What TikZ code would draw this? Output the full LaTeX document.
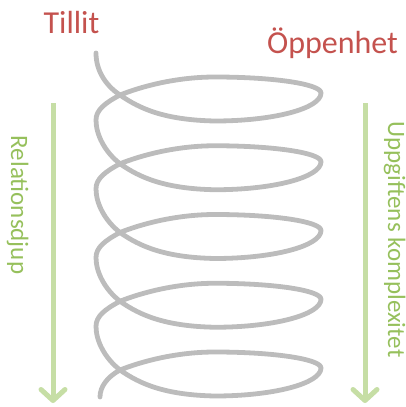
\documentclass[tikz,border=0pt]{standalone}
\usepackage{fontspec}
\setmainfont{Carlito}
\usetikzlibrary{arrows.meta}
\definecolor{springgray}{RGB}{188,188,188}
\definecolor{titlered}{RGB}{196,82,78}
\definecolor{arrowgreen}{RGB}{198,222,165}
\definecolor{textgreen}{RGB}{150,192,92}
\tikzset{
  spring/.style={draw=springgray, line width=4.8pt, line cap=round, line join=round},
  greenarrow/.style={draw=arrowgreen, line width=5pt, -{Straight Barb[length=11pt,width=24pt,line cap=round,line join=round]}},
  titletext/.style={text=titlered, inner sep=0pt, anchor=base, font=\fontsize{32}{32}\selectfont},
  sidetext/.style={text=textgreen, inner sep=0pt, anchor=base, rotate=-90, font=\fontsize{25}{25}\selectfont}
}
\begin{document}
\begin{tikzpicture}[x=1pt, y=-1pt]
\useasboundingbox (0,0) rectangle (406,407);
% titles
\node[titletext] (tillit) at (71.5,33) {Tillit};
\node[titletext] (oppen) at (332.5,53) {Öppenhet};
% side labels
\node[sidetext] (rel) at (11,205) {Relationsdjup};
\node[sidetext] (upp) at (388,239.5) {Uppgiftens komplexitet};
% arrows
\coordinate (la1) at (53,103);
\coordinate (la2) at (53,403);
\coordinate (ra1) at (365,103);
\coordinate (ra2) at (365,403);
\draw[greenarrow] (la1) -- (la2);
\draw[greenarrow] (ra1) -- (ra2);
% spring
\draw[spring] (96,53) .. controls (96,70) and (105,85) .. (120,95);
\foreach \i in {0,...,4}{
  \begin{scope}[shift={(0,68.75*\i)}]
    \draw[spring] (120,95) .. controls (140,109) and (165,120) .. (215,121)
      .. controls (273.5,121) and (321,108.5) .. (321,93)
      .. controls (321,84) and (273.5,77) .. (215,77)
      .. controls (175,77) and (140,87) .. (120,95);
  \end{scope}
}
\foreach \i in {0,...,3}{
  \begin{scope}[shift={(0,68.75*\i)}]
    \draw[spring] (120,95) .. controls (105,103) and (96,110) .. (96,120)
      .. controls (96,135) and (105,152) .. (120,163.75);
  \end{scope}
}
\draw[spring] (120,370) .. controls (107,377) and (100,387) .. (100,397);
\end{tikzpicture}
\end{document}
